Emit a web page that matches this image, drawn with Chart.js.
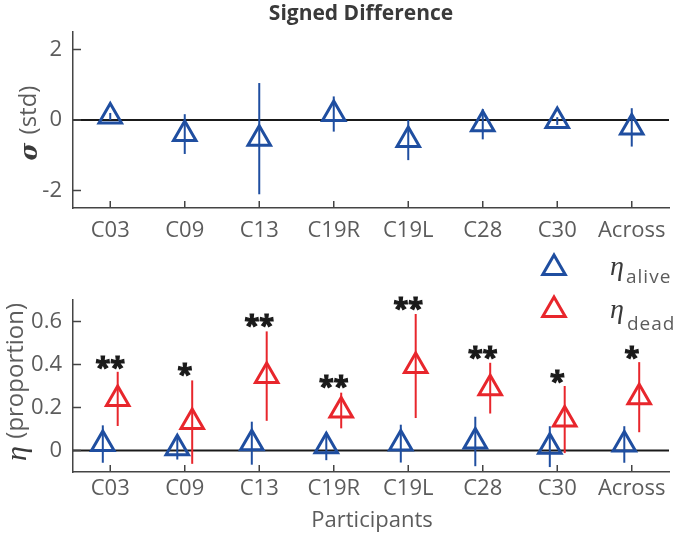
<!DOCTYPE html>
<html>
<head>
<meta charset="utf-8">
<script src="https://cdn.jsdelivr.net/npm/chart.js@4.4.1/dist/chart.umd.min.js"></script>
<style>
  html, body { margin: 0; padding: 0; background: #fff; }
  #wrap { position: relative; width: 685px; height: 539px; }
  #top { position: absolute; left: 0; top: 0; }
  #bottom { position: absolute; left: 0; top: 245px; }
</style>
</head>
<body>
<div id="wrap">
  <canvas id="top" width="685" height="245"></canvas>
  <canvas id="bottom" width="685" height="294"></canvas>
</div>
<script>
// 参与者
const participants = ['C03', 'C09', 'C13', 'C19R', 'C19L', 'C28', 'C30', 'Across'];

// 上图: signed difference (std)
const sigmaMean = [0.10, -0.40, -0.53, 0.17, -0.57, -0.12, -0.03, -0.21];
const sigmaErr  = [0.10, 0.565, 1.58, 0.50, 0.57, 0.43, 0.11, 0.545];
const sigmaTicks = [-2, 0, 2];

// 下图: proportion
const aliveMean = [0.030, 0.010, 0.034, 0.020, 0.032, 0.042, 0.018, 0.028];
const aliveErr  = [0.087, 0.052, 0.100, 0.065, 0.088, 0.115, 0.095, 0.085];
const deadMean  = [0.240, 0.132, 0.346, 0.186, 0.393, 0.290, 0.144, 0.248];
const deadErr   = [0.126, 0.194, 0.208, 0.083, 0.242, 0.118, 0.156, 0.163];
const etaTicks = [0, 0.2, 0.4, 0.6];

// 显著性星号
const starY    = [0.408, 0.377, 0.603, 0.320, 0.685, 0.458, 0.346, 0.458];
const starText = ['**', '*', '**', '**', '**', '**', '*', '*'];

const dodge = 0.1;
const blue = '#1f4ea0';
const red = '#e8262c';
const axisColor = '#444444';
const textColor = '#5c5c5c';

Chart.defaults.font.family = 'Open Sans';

function points(values, shift) {
    return values.map((v, i) => ({ x: i + 1 + shift, y: v }));
}

// 误差线和零线
const errorBars = {
    id: 'errorBars',
    beforeDatasetsDraw(chart) {
        const { ctx, chartArea: a, scales: { x, y } } = chart;
        ctx.save();
        ctx.strokeStyle = '#1a1a1a';
        ctx.lineWidth = 2;
        ctx.beginPath();
        ctx.moveTo(a.left, y.getPixelForValue(0));
        ctx.lineTo(a.right, y.getPixelForValue(0));
        ctx.stroke();
        chart.data.datasets.forEach(ds => {
            if (!ds.errors) return;
            ctx.strokeStyle = ds.borderColor;
            ctx.lineWidth = 2;
            ds.data.forEach((p, i) => {
                const px = x.getPixelForValue(p.x);
                ctx.beginPath();
                ctx.moveTo(px, y.getPixelForValue(p.y - ds.errors[i]));
                ctx.lineTo(px, y.getPixelForValue(p.y + ds.errors[i]));
                ctx.stroke();
            });
        });
        ctx.restore();
    }
};

// 向内的刻度线
const inwardTicks = {
    id: 'inwardTicks',
    afterDraw(chart) {
        const { ctx, chartArea: a, scales: { x, y } } = chart;
        ctx.save();
        ctx.strokeStyle = axisColor;
        ctx.lineWidth = 1.5;
        ctx.beginPath();
        x.ticks.forEach(t => {
            const px = x.getPixelForValue(t.value);
            ctx.moveTo(px, a.bottom);
            ctx.lineTo(px, a.bottom - 7);
        });
        y.ticks.forEach(t => {
            const py = y.getPixelForValue(t.value);
            ctx.moveTo(a.left, py);
            ctx.lineTo(a.left + 8, py);
        });
        ctx.stroke();
        ctx.restore();
    }
};

// 旋转的 y 轴标题 (希腊字母 + 普通文字)
function drawYTitle(ctx, cx, cy, greek, greekFont, rest) {
    ctx.save();
    ctx.translate(cx, cy);
    ctx.rotate(-Math.PI / 2);
    ctx.textBaseline = 'middle';
    ctx.font = greekFont;
    const gw = ctx.measureText(greek).width;
    ctx.font = '24px "Open Sans"';
    const rw = ctx.measureText(rest).width;
    const start = -(gw + rw) / 2;
    ctx.font = greekFont;
    ctx.fillStyle = '#3a3a3a';
    ctx.fillText(greek, start, 2);
    ctx.font = '24px "Open Sans"';
    ctx.fillStyle = textColor;
    ctx.fillText(rest, start + gw, 0);
    ctx.restore();
}

function drawTriangle(ctx, cx, cy, r, color) {
    ctx.save();
    ctx.strokeStyle = color;
    ctx.lineWidth = 3;
    ctx.beginPath();
    ctx.moveTo(cx, cy - r);
    ctx.lineTo(cx + 0.866 * r, cy + 0.5 * r);
    ctx.lineTo(cx - 0.866 * r, cy + 0.5 * r);
    ctx.closePath();
    ctx.stroke();
    ctx.restore();
}

function makeOptions(yMin, yMax, yTicks, xHeight, labelPad, topPad) {
    return {
        responsive: false,
        animation: false,
        events: [],
        layout: { padding: { top: topPad, right: 5, left: 0, bottom: 0 } },
        plugins: { legend: { display: false }, tooltip: { enabled: false } },
        scales: {
            x: {
                type: 'linear',
                min: 0.5,
                max: 8.5,
                grid: { display: false, drawTicks: false },
                border: { display: true, color: axisColor, width: 1.5 },
                afterBuildTicks: s => { s.ticks = participants.map((_, i) => ({ value: i + 1 })); },
                afterFit: s => { s.height = xHeight; },
                ticks: {
                    autoSkip: false,
                    maxRotation: 0,
                    padding: labelPad,
                    color: textColor,
                    font: { size: 22 },
                    callback: v => participants[v - 1]
                }
            },
            y: {
                min: yMin,
                max: yMax,
                grid: { display: false, drawTicks: false },
                border: { display: true, color: axisColor, width: 1.5 },
                afterBuildTicks: s => { s.ticks = yTicks.map(v => ({ value: v })); },
                afterFit: s => { s.width = 73; },
                ticks: {
                    padding: 11,
                    color: textColor,
                    font: { size: 22 },
                    callback: v => String(v)
                }
            }
        }
    };
}

// 上图
new Chart(document.getElementById('top'), {
    type: 'scatter',
    data: {
        datasets: [{
            data: points(sigmaMean, 0),
            errors: sigmaErr,
            borderColor: blue,
            backgroundColor: 'rgba(0,0,0,0)',
            pointStyle: 'triangle',
            pointRadius: 13,
            pointBorderWidth: 3
        }]
    },
    options: makeOptions(-2.5, 2.5, sigmaTicks, 37, 10, 32),
    plugins: [errorBars, inwardTicks, {
        id: 'topText',
        afterDraw(chart) {
            const ctx = chart.ctx;
            ctx.save();
            ctx.fillStyle = '#3a3a3a';
            ctx.font = 'bold 21px "Open Sans"';
            ctx.textAlign = 'center';
            ctx.textBaseline = 'middle';
            ctx.fillText('Signed Difference', 361, 14);
            ctx.restore();
            drawYTitle(ctx, 29, 123, 'σ ', 'bold italic 24px "DejaVu Serif"', '(std)');
        }
    }]
});

// 下图
new Chart(document.getElementById('bottom'), {
    type: 'scatter',
    data: {
        datasets: [{
            data: points(aliveMean, -dodge),
            errors: aliveErr,
            borderColor: blue,
            backgroundColor: 'rgba(0,0,0,0)',
            pointStyle: 'triangle',
            pointRadius: 13,
            pointBorderWidth: 3
        }, {
            data: points(deadMean, dodge),
            errors: deadErr,
            borderColor: red,
            backgroundColor: 'rgba(0,0,0,0)',
            pointStyle: 'triangle',
            pointRadius: 13,
            pointBorderWidth: 3
        }]
    },
    options: makeOptions(-0.1, 0.7, etaTicks, 67, 4, 55),
    plugins: [errorBars, inwardTicks, {
        id: 'bottomText',
        afterDraw(chart) {
            const { ctx, scales: { x, y } } = chart;
            // 星号
            ctx.save();
            ctx.fillStyle = '#1a1a1a';
            ctx.strokeStyle = '#1a1a1a';
            ctx.lineWidth = 1.2;
            ctx.font = 'bold 27px "Open Sans"';
            ctx.textAlign = 'center';
            ctx.textBaseline = 'alphabetic';
            starText.forEach((s, i) => {
                const m = ctx.measureText(s);
                const off = (m.actualBoundingBoxAscent - m.actualBoundingBoxDescent) / 2;
                const px = x.getPixelForValue(i + 1);
                const py = y.getPixelForValue(starY[i]) + off;
                ctx.fillText(s, px, py);
                ctx.strokeText(s, px, py);
            });
            ctx.restore();

            // 图例
            drawTriangle(ctx, 554, 23, 13, blue);
            drawTriangle(ctx, 554, 65, 13, red);
            ctx.save();
            ctx.fillStyle = '#3a3a3a';
            ctx.font = 'italic 28px "Liberation Serif"';
            ctx.fillText('η', 610, 30);
            ctx.fillText('η', 610, 73);
            ctx.fillStyle = textColor;
            ctx.font = '19px "Open Sans"';
            ctx.letterSpacing = '1px';
            ctx.fillText('alive', 626, 38);
            ctx.fillText('dead', 627, 85);
            ctx.letterSpacing = '0px';
            ctx.font = '22px "Open Sans"';
            ctx.textAlign = 'center';
            ctx.textBaseline = 'middle';
            ctx.fillText('Participants', 372, 276);
            ctx.restore();

            drawYTitle(ctx, 16, 137, 'η ', 'italic 30px "Liberation Serif"', '(proportion)');
        }
    }]
});
</script>
</body>
</html>
